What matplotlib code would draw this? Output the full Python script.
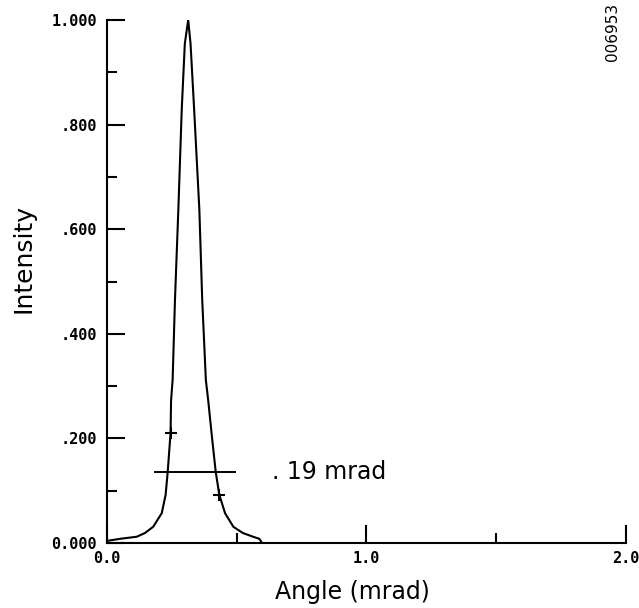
import matplotlib
matplotlib.use("Agg")
import matplotlib.pyplot as plt
from matplotlib.ticker import MultipleLocator

# beam profile
angle = [0.0, 0.05, 0.115, 0.146, 0.178, 0.211, 0.226, 0.234, 0.245, 0.247,
         0.253, 0.262, 0.275, 0.288, 0.300, 0.313, 0.322, 0.336, 0.356, 0.367,
         0.381, 0.390, 0.403, 0.419, 0.433, 0.455, 0.487, 0.524, 0.563, 0.587,
         0.595]
intensity = [0.004, 0.008, 0.012, 0.019, 0.031, 0.057, 0.092, 0.136, 0.210, 0.273,
             0.312, 0.465, 0.637, 0.828, 0.955, 1.000, 0.955, 0.828, 0.637, 0.465,
             0.312, 0.273, 0.210, 0.136, 0.092, 0.057, 0.031, 0.019, 0.012, 0.008,
             0.002]

# marked points on the flanks and the width bar
mark_angle = [0.245, 0.433]
mark_intensity = [0.210, 0.092]
bar_start, bar_end, bar_level = 0.185, 0.493, 0.136
width_label = ". 19 mrad"

y_ticks = [0.0, 0.2, 0.4, 0.6, 0.8, 1.0]
y_labels = ["0.000", ".200", ".400", ".600", ".800", "1.000"]
x_ticks = [0.0, 1.0, 2.0]
x_labels = ["0.0", "1.0", "2.0"]

plt.rcParams['font.family'] = ['DejaVu Sans']

fig = plt.figure(figsize=(6.39, 6.08), dpi=100)
ax = fig.add_axes([0.1674, 0.1069, 0.8123, 0.8601])

ax.plot(angle, intensity, color='black', lw=1.5, solid_joinstyle='round')
ax.plot(mark_angle, mark_intensity, '+', color='black', ms=8, mew=1.5)
ax.plot([bar_start, bar_end], [bar_level, bar_level], color='black', lw=1.4)

ax.set_xlim(0, 2.0)
ax.set_ylim(0, 1.0)

for side in ['top', 'right']:
    ax.spines[side].set_visible(False)
for side in ['left', 'bottom']:
    ax.spines[side].set_linewidth(1.5)
    ax.spines[side].set_clip_on(False)

ax.set_yticks(y_ticks)
ax.set_yticklabels(y_labels)
ax.yaxis.set_minor_locator(MultipleLocator(0.1))
ax.set_xticks(x_ticks)
ax.set_xticklabels(x_labels)
ax.xaxis.set_minor_locator(MultipleLocator(0.5))

ax.tick_params(axis='both', which='major', direction='in', length=13, width=1.5,
               pad=7, labelsize=11)
ax.tick_params(axis='both', which='minor', direction='in', length=7, width=1.5)
ax.tick_params(axis='x', which='major', pad=6)
for lab in ax.get_xticklabels() + ax.get_yticklabels():
    lab.set_family('DejaVu Sans Mono')
    lab.set_weight('bold')

ax.set_xlabel('Angle (mrad)', fontsize=17, va='center')
ax.xaxis.set_label_coords(0.472, -0.094)
ax.set_ylabel('Intensity', fontsize=18, va='center')
ax.yaxis.set_label_coords(-0.16, 0.545)

ax.text(0.635, bar_level, width_label, fontsize=17, va='center', ha='left')

fig.text(0.958, 0.995, '006953', rotation=90, fontsize=11, ha='center', va='top')

fig.savefig('out.png', dpi=100)
